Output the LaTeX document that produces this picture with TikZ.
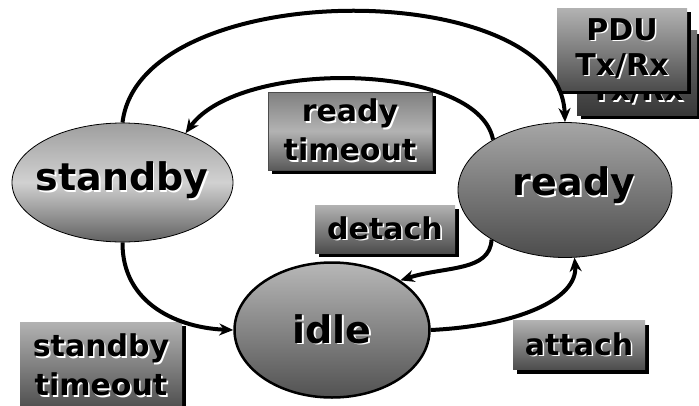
\documentclass[tikz,border=0pt]{standalone}
\usepackage{fontspec}
\setmainfont{DejaVu Sans}
\usetikzlibrary{shapes.geometric,arrows.meta,shadows}
% bold text with a white copy set slightly down and to the right
\newcommand\halo[1]{\makebox[0pt][l]{\hspace{1.6pt}\raisebox{-1.6pt}{\color{white}#1}}#1}
\begin{document}
\begin{tikzpicture}[x=1pt,y=-1pt,
  state/.style={ellipse, draw=black, line width=0.8pt, inner sep=0pt},
  statetext/.style={inner sep=0pt, font=\fontsize{38}{40}\selectfont\bfseries},
  lbl/.style={rectangle, inner sep=0pt, align=center,
    font=\fontsize{30}{39}\selectfont\bfseries,
    top color=black!30, bottom color=black!70,
    drop shadow={shadow xshift=4pt, shadow yshift=-4pt, fill=black, opacity=1}},
  trans/.style={line width=4pt, -{Stealth[length=14pt,width=12pt]}}]
\useasboundingbox (0,0) rectangle (699,405);

% states
\node[state, minimum width=221pt, minimum height=119pt,
  top color=black!38, bottom color=black!62, middle color=black!18]
  (standby) at (122.5,182.5) {};
\node[statetext] (standbytext) at (122,181) {\halo{standby}};
\node[state, minimum width=214pt, minimum height=135pt,
  top color=black!35, bottom color=black!70]
  (ready) at (565,190) {};
\node[statetext] (readytext) at (574,186) {\halo{ready}};
\node[state, line width=2.5pt, minimum width=195pt, minimum height=135pt,
  top color=black!28, bottom color=black!68]
  (idle) at (332,330) {};
\node[statetext] (idletext) at (332,330) {\halo{idle}};

% transition labels
\node[lbl, minimum width=120pt, minimum height=85pt,
  top color=black!55, bottom color=black!78]
  (pduback) at (637,72.5) {\halo{PDU}\\\halo{Tx/Rx}};
\node[lbl, minimum width=130pt, minimum height=82pt]
  (pdu) at (622,49) {\raisebox{-4pt}{\halo{PDU}}\\\halo{Tx/Rx}};
\node[lbl, minimum width=164pt, minimum height=78pt,
  top color=black!50, bottom color=black!65, middle color=black!30,
  draw=black!70, line width=0.6pt]
  (rtimeout) at (350,131) {\halo{ready}\\\halo{timeout}};
\node[lbl, minimum width=140pt, minimum height=48pt]
  (detach) at (385,229) {\halo{detach}};
\node[lbl, minimum width=162pt, minimum height=88pt]
  (stimeout) at (101,366) {\halo{standby}\\\halo{timeout}};
\node[lbl, minimum width=132pt, minimum height=49pt]
  (attach) at (579,345) {\halo{attach}};

% transitions
\draw[trans] (standby.north) .. controls (140,-25) and (560,-25) .. (ready.north);
\draw[trans] (ready.145) .. controls (478,62) and (240,58) .. (standby.38);
\draw[trans] (standby.south) .. controls (122,305) and (180,328) .. (idle.west);
\draw[trans] (ready.214) .. controls (490,272) and (445,266) .. (idle.36);
\draw[trans] (idle.east) .. controls (515,326) and (578,300) .. (ready.278);
\end{tikzpicture}
\end{document}
